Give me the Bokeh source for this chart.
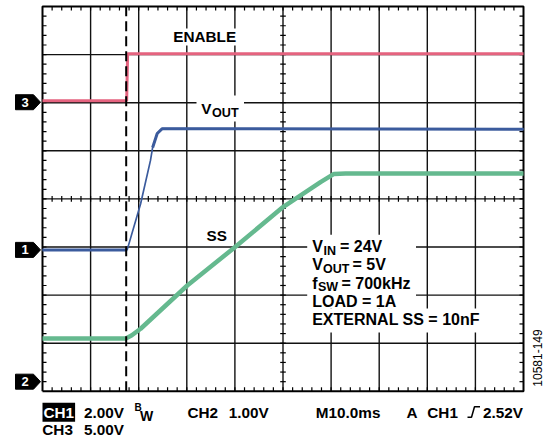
import numpy as np
from bokeh.plotting import figure
from bokeh.models import Range1d, Label
from bokeh.embed import file_html
from bokeh.resources import INLINE

# ---------------- data (read from the scope capture) ----------------
ms_per_div = 10.0
n_xdiv = 10
n_ydiv = 8
trigger_ms = 17.4

ch1_v_per_div = 2.0   # VOUT
ch2_v_per_div = 1.0   # SS
ch3_v_per_div = 5.0   # ENABLE
ch1_ground_div = 2.94
ch2_ground_div = 0.20
ch3_ground_div = 6.01

enable_t = [0, 17.5, 17.7, 100]
enable_v = [0.15, 0.15, 5.05, 5.05]

vout_t = [0, 17.6, 20.4, 22.45, 22.9, 23.85, 24.9, 100]
vout_v = [0.0, 0.0, 1.92, 3.72, 4.26, 4.84, 5.04, 5.02]

ss_t = [0, 17.3, 18.5, 20.4, 30.1, 39.8, 50.0, 57.8, 60.6, 63.0, 100]
ss_v = [0.90, 0.90, 0.96, 1.10, 2.00, 2.78, 3.63, 4.15, 4.32, 4.33, 4.33]

# ---------------- layout helpers ----------------
W, H = 545, 437
X_MAX = ms_per_div * n_xdiv
GX0, GX1 = 42.0, 523.0      # grid left/right in canvas px
GY0, GY1 = 6.0, 390.8       # grid top/bottom in canvas px
PX_X = (GX1 - GX0) / X_MAX
PX_Y = (GY1 - GY0) / n_ydiv


def X(px):
    return (px - GX0) / PX_X


def Y(py):
    return (GY1 - py) / PX_Y


def to_div(volts, v_per_div, ground):
    return [v / v_per_div + ground for v in volts]


FONT = "Liberation Sans"

p = figure(width=W, height=H, x_range=Range1d(X(0), X(W)), y_range=Range1d(Y(H), Y(0)),
           output_backend="svg", toolbar_location=None,
           min_border=0, x_axis_type=None, y_axis_type=None)
p.outline_line_color = None
p.background_fill_color = "white"
p.border_fill_color = "white"
p.xgrid.visible = False
p.ygrid.visible = False

# grid lines
gx = [ms_per_div * i for i in range(1, n_xdiv)]
gy = list(range(1, n_ydiv))
p.segment(x0=gx, y0=[0] * len(gx), x1=gx, y1=[n_ydiv] * len(gx), line_color="#111111", line_width=1.4)
p.segment(x0=[0] * len(gy), y0=gy, x1=[X_MAX] * len(gy), y1=gy, line_color="#111111", line_width=1.4)

# minor ticks on border and centre cross
tx = 4 / PX_X
ty = 4 / PX_Y
xt = np.arange(ms_per_div / 5, X_MAX, ms_per_div / 5)
yt = np.arange(0.2, n_ydiv, 0.2)
cx = X_MAX / 2
cy = n_ydiv / 2
x0 = np.concatenate([xt, xt, np.zeros_like(yt), np.full_like(yt, X_MAX), np.full_like(yt, cx - tx * 0.7), xt])
x1 = np.concatenate([xt, xt, np.full_like(yt, tx), np.full_like(yt, X_MAX - tx), np.full_like(yt, cx + tx * 0.7), xt])
y0 = np.concatenate([np.full_like(xt, n_ydiv), np.zeros_like(xt), yt, yt, yt, np.full_like(xt, cy - ty * 0.7)])
y1 = np.concatenate([np.full_like(xt, n_ydiv - ty), np.full_like(xt, ty), yt, yt, yt, np.full_like(xt, cy + ty * 0.7)])
p.segment(x0=x0, y0=y0, x1=x1, y1=y1, line_color="black", line_width=1.2)

# white boxes behind in-grid labels (drawn over the grid)
boxes = [(168, 241, 28, 45), (196, 243.5, 95, 121), (306.7, 415.5, 234.3, 308), (306.7, 482, 308, 332)]
p.quad(left=[X(b[0]) for b in boxes], right=[X(b[1]) for b in boxes],
       top=[Y(b[2]) for b in boxes], bottom=[Y(b[3]) for b in boxes],
       fill_color="white", line_color=None)

# grid border
p.line([0, X_MAX, X_MAX, 0, 0], [0, 0, n_ydiv, n_ydiv, 0], line_color="black", line_width=2)

# traces
p.line(enable_t, to_div(enable_v, ch3_v_per_div, ch3_ground_div), line_color="#E5637F", line_width=3)
vout_div = to_div(vout_v, ch1_v_per_div, ch1_ground_div)
p.line(vout_t, vout_div, line_color="#3B5B9D", line_width=1.7)          # fast ramp: thin trace
p.line(vout_t[:2], vout_div[:2], line_color="#3B5B9D", line_width=3)     # settled parts: thick trace
p.line(vout_t[4:], vout_div[4:], line_color="#3B5B9D", line_width=3)
p.line(ss_t, to_div(ss_v, ch2_v_per_div, ch2_ground_div), line_color="#65B98F", line_width=4.5)

# trigger position marker
p.segment(x0=[trigger_ms], y0=[0], x1=[trigger_ms], y1=[n_ydiv], line_color="black",
          line_width=2, line_dash="10 5")

# channel ground markers
names = ["3", "1", "2"]
grounds = [ch3_ground_div, ch1_ground_div, ch2_ground_div]
h = 7.5 / PX_Y
p.patches(xs=[[X(15), X(33), X(40), X(33), X(15)] for _ in grounds],
          ys=[[g - h, g - h, g, g + h, g + h] for g in grounds],
          fill_color="black", line_color="black")


def lab(text, px, py, size, color="black", style="bold", align="left",
        bg=None, angle=0, padding=0, ydata=None, center=False):
    """px, py: left x and text baseline (canvas px); placed by cap-height middle."""
    kw = {}
    if bg is not None:
        kw["background_fill_color"] = bg
        kw["background_fill_alpha"] = 1
        kw["padding"] = padding
    if ydata is not None:
        y = ydata
    elif center:
        y = Y(py)
    else:
        y = Y(py - 0.355 * size)
    p.add_layout(Label(x=X(px), y=y, text=text, text_font=FONT,
                       text_font_size=f"{size}px", text_font_style=style, text_color=color,
                       text_align=align, text_baseline="middle", angle=angle, **kw))


for n, g in zip(names, grounds):
    lab(n, 24.5, 0, 13, color="white", align="center", ydata=g)

lab("ENABLE", 172.7, 41.7, 15.3)
lab("V", 200.7, 113.3, 15.3)
lab("OUT", 211.5, 116.7, 12.6)
lab("SS", 206, 240.7, 15.3)

big = 16
sub = 12.5
lab("V", 311.7, 251.7, big)
lab("IN", 323, 254.7, sub)
lab("= 24V", 339.5, 251.7, big)
lab("V", 311.7, 270, big)
lab("OUT", 322.5, 273, sub)
lab("= 5V", 352, 270, big)
lab("f", 311.7, 288.3, big)
lab("SW", 317.5, 291.3, sub)
lab("= 700kHz", 341, 288.3, big)
lab("LOAD = 1A", 311.7, 306.7, big)
lab("EXTERNAL SS = 10nF", 311.7, 325, big)

# bottom status text
r1 = 417.3
r2 = 434.5
lab("CH1", 42, r1, 15.3, color="white", bg="black", padding=1)
lab("2.00V", 83.6, r1, 15.3)
lab("B", 134, r1 - 7, 10)
lab("W", 139.5, r1 + 3, 14)
lab("CH2", 187, r1, 15.3)
lab("1.00V", 228.2, r1, 15.3)
lab("M10.0ms", 315.3, r1, 15.3)
lab("A", 406, r1, 15.3)
lab("CH1", 426.8, r1, 15.3)
lab("2.52V", 482.6, r1, 15.3)
lab("CH3", 41.8, r2, 15.3)
lab("5.00V", 83.6, r2, 15.3)

# rising-edge trigger symbol
sy0, sy1 = r1 - 0.5, r1 - 11
p.line([X(467), X(471), X(474), X(479.5)], [Y(sy0), Y(sy0), Y(sy1), Y(sy1)],
       line_color="black", line_width=1.5)

# figure id
lab("10581-149", 536.5, 357.5, 12, style="normal", align="center", angle=np.pi / 2, center=True)

open("out.html", "w").write(file_html(p, INLINE))
